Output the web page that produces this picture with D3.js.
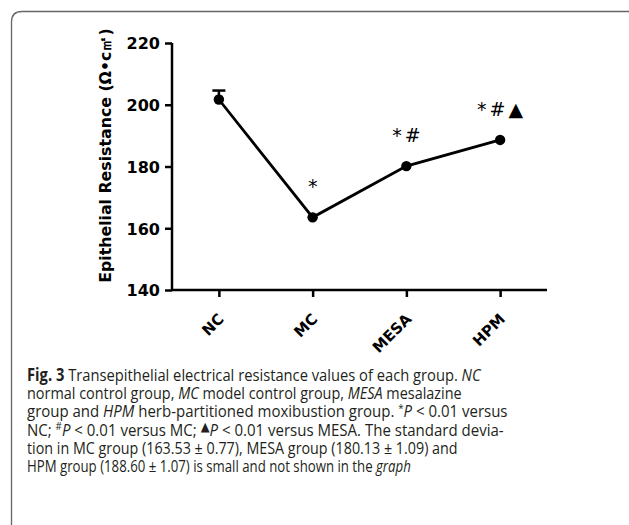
<!DOCTYPE html>
<html><head><meta charset="utf-8">
<script src="https://cdn.jsdelivr.net/npm/d3@7"></script>
<style>body{margin:0;background:#fff}svg{display:block}</style>
</head><body><svg id="c" width="629" height="525"></svg>
<script>
// ---- data ----
const groups = ["NC", "MC", "MESA", "HPM"];
const means = [201.7, 163.53, 180.13, 188.60];
const sds = [2.9, 0.77, 1.09, 1.07];
const showErr = [true, false, false, false];
const marks = ["", "*", "*#", "*#▲"];
const yTicks = [140, 160, 180, 200, 220];
const yDomain = [140, 220];
const yLabel = "Epithelial Resistance (Ω•c㎡)";
// caption lines: segments [text, style] (b=bold, i=italic, s=superscript, t=triangle)
const captionLines = [
  [["Fig. 3", "b"], ["  Transepithelial electrical resistance values of each group. "], ["NC", "i"]],
  [["normal control group, "], ["MC", "i"], [" model control group, "], ["MESA", "i"], [" mesalazine"]],
  [["group and "], ["HPM", "i"], [" herb-partitioned moxibustion group. "], ["*", "s"], ["P", "i"], [" < 0.01 versus"]],
  [["NC; "], ["#", "s"], ["P", "i"], [" < 0.01 versus MC; "], ["▲", "t"], ["P", "i"], [" < 0.01 versus MESA. The standard devia-"]],
  [["tion in MC group (163.53 ± 0.77), MESA group (180.13 ± 1.09) and"]],
  [["HPM group (188.60 ± 1.07) is small and not shown in the "], ["graph", "i"]]
];
const captionWidths = [454, 435, 481, 477, 431, 384];

// ---- layout ----
const svg = d3.select("#c");
const L = 172, R = 547, T = 43, B = 290;
const x = d3.scalePoint().domain(groups).range([L, R]).padding(0.5);
const y = d3.scaleLinear().domain(yDomain).range([B, T]);

// frame
svg.append("path")
  .attr("d", `M11.5,525 L11.5,22 Q11.5,11.5 22,11.5 L629,11.5`)
  .attr("fill", "none").attr("stroke", "#666").attr("stroke-width", 1.3);

// axes
const gy = svg.append("g").attr("transform", `translate(${L},0)`)
  .call(d3.axisLeft(y).tickValues(yTicks).tickSize(7).tickSizeOuter(0).tickPadding(5).tickFormat(d3.format("d")));
const gx = svg.append("g").attr("transform", `translate(0,${B})`)
  .call(d3.axisBottom(x).tickSize(7).tickSizeOuter(0).tickFormat(""));
[gy, gx].forEach(g => {
  g.select(".domain").attr("stroke", "#000").attr("stroke-width", 2.5);
  g.selectAll(".tick line").attr("stroke", "#000").attr("stroke-width", 2.5);
});
gx.select(".domain").attr("d", `M${L},0H${R}`);
gy.select(".domain").attr("d", `M0,${B}V${T}`);
gy.selectAll(".tick text")
  .attr("font-family", "DejaVu Sans").attr("font-weight", "bold")
  .attr("font-size", 16).attr("fill", "#000").attr("dy", "0.36em");

// x labels rotated
svg.append("g").selectAll("text").data(groups).join("text")
  .attr("transform", d => `translate(${x(d) + 6},${B + 30}) rotate(-45)`)
  .attr("text-anchor", "end")
  .attr("font-family", "DejaVu Sans").attr("font-weight", "bold").attr("font-size", 15)
  .text(d => d);

// y label
const yl = svg.append("text")
  .attr("font-family", "DejaVu Sans").attr("font-weight", "bold").attr("font-size", 15.5)
  .attr("text-anchor", "middle").text(yLabel);
{
  const w = yl.node().getComputedTextLength();
  const s = 255 / w;
  yl.attr("transform", `translate(110.5,155.5) rotate(-90) scale(${s},1)`);
}

// data
const data = groups.map((g, i) => ({ g, m: means[i], sd: sds[i], e: showErr[i], mk: marks[i] }));

// error bars (upper only)
const eg = svg.append("g");
data.filter(d => d.e).forEach(d => {
  eg.append("line").attr("x1", x(d.g)).attr("x2", x(d.g))
    .attr("y1", y(d.m)).attr("y2", y(d.m + d.sd))
    .attr("stroke", "#000").attr("stroke-width", 2.5);
  eg.append("line").attr("x1", x(d.g) - 6.5).attr("x2", x(d.g) + 6.5)
    .attr("y1", y(d.m + d.sd)).attr("y2", y(d.m + d.sd))
    .attr("stroke", "#000").attr("stroke-width", 2.5);
});

svg.append("path").datum(data)
  .attr("d", d3.line().x(d => x(d.g)).y(d => y(d.m)))
  .attr("fill", "none").attr("stroke", "#000").attr("stroke-width", 2.8);

svg.append("g").selectAll("circle").data(data).join("circle")
  .attr("cx", d => x(d.g)).attr("cy", d => y(d.m)).attr("r", 5.2).attr("fill", "#000");

// significance marks
svg.append("g").selectAll("text").data(data.filter(d => d.mk)).join("text")
  .attr("x", d => x(d.g) + 1.5).attr("y", d => y(d.m) - 24)
  .attr("text-anchor", "middle")
  .attr("font-family", "DejaVu Sans").attr("font-size", 19)
  .attr("letter-spacing", "3")
  .text(d => d.mk);

// caption
const cap = svg.append("g");
captionLines.forEach((segs, li) => {
  const t = cap.append("text")
    .attr("font-family", "Open Sans").attr("font-size", 17).attr("fill", "#231f20");
  segs.forEach(([txt, st]) => {
    const ts = t.append("tspan").text(txt);
    if (st === "b") ts.attr("font-weight", "bold");
    if (st === "i") ts.attr("font-style", "italic");
    if (st === "s") ts.attr("font-size", 11).attr("baseline-shift", "5");
    if (st === "t") ts.attr("font-family", "DejaVu Sans").attr("font-size", 13).attr("baseline-shift", "4");
  });
  const w = t.node().getComputedTextLength();
  const s = captionWidths[li] / w;
  t.attr("transform", `translate(27,${380.7 + li * 18.3}) scale(${s},1)`);
});
</script></body></html>
